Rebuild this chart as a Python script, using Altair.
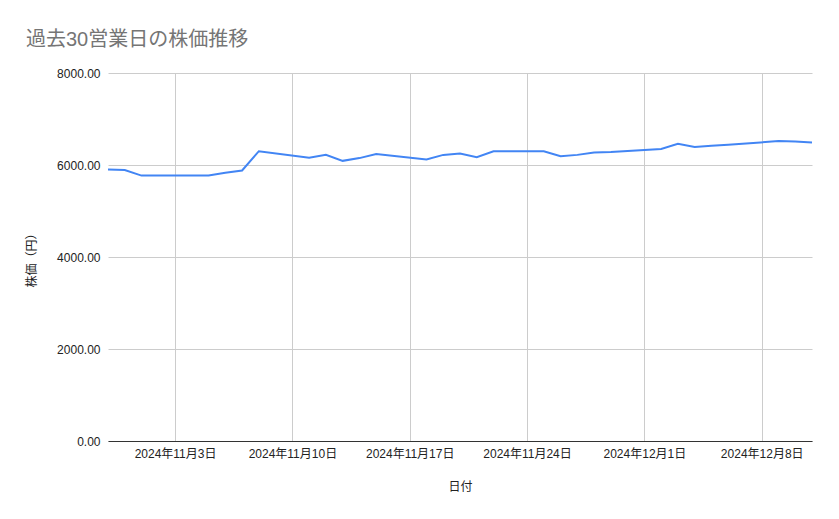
import altair as alt
import pandas as pd

dates = [
    "2024-10-30", "2024-10-31", "2024-11-01",
    "2024-11-04", "2024-11-05", "2024-11-06", "2024-11-07", "2024-11-08",
    "2024-11-11", "2024-11-12", "2024-11-13", "2024-11-14", "2024-11-15",
    "2024-11-18", "2024-11-19", "2024-11-20", "2024-11-21", "2024-11-22",
    "2024-11-25", "2024-11-26", "2024-11-27", "2024-11-28", "2024-11-29",
    "2024-12-02", "2024-12-03", "2024-12-04", "2024-12-05", "2024-12-06",
    "2024-12-09", "2024-12-10", "2024-12-11",
]
prices = [
    5900, 5890, 5770,
    5770, 5770, 5830, 5880, 6300,
    6160, 6220, 6090, 6150, 6240,
    6120, 6220, 6250, 6170, 6300,
    6300, 6190, 6220, 6270, 6280,
    6350, 6460, 6390, 6420, 6440,
    6520, 6510, 6490,
]
y_ticks = [0, 2000, 4000, 6000, 8000]
x_ticks = ["2024-11-03", "2024-11-10", "2024-11-17", "2024-11-24", "2024-12-01", "2024-12-08"]

df = pd.DataFrame({"date": [d + "T00:00:00" for d in dates], "price": prices})


def dt(s):
    y, m, d = (int(v) for v in s.split("-"))
    return alt.DateTime(year=y, month=m, date=d)


FONT = "Liberation Sans, Arial, Noto Sans CJK JP"

chart = (
    alt.Chart(df)
    .mark_line(color="#4285F4", strokeWidth=2)
    .encode(
        x=alt.X(
            "date:T",
            title="日付",
            scale=alt.Scale(domain=[dt(dates[0]), dt(dates[-1])], nice=False),
            axis=alt.Axis(
                values=[dt(s) for s in x_ticks],
                format="%Y年%-m月%-d日",
                grid=True,
                gridColor="#cccccc",
                ticks=False,
                domainColor="#333333",
                labelPadding=7,
                titlePadding=22,
            ),
        ),
        y=alt.Y(
            "price:Q",
            title="株価（円）",
            scale=alt.Scale(domain=[0, 8000], nice=False),
            axis=alt.Axis(
                values=y_ticks,
                format=".2f",
                grid=True,
                gridColor="#cccccc",
                ticks=False,
                domain=False,
                labelPadding=8,
                titlePadding=18,
            ),
        ),
    )
    .properties(
        width=704,
        height=368,
        autosize=alt.AutoSizeParams(type="none"),
        padding={"left": 100, "top": 65, "right": 19, "bottom": 70},
        title=alt.TitleParams(
            "過去30営業日の株価推移",
            anchor="start",
            frame="group",
            dx=-82,
            offset=17,
            fontSize=20,
            fontWeight="normal",
            color="#757575",
            font=FONT,
        ),
        background="white",
    )
    .configure_view(stroke=None)
    .configure_axis(
        labelFont=FONT,
        titleFont=FONT,
        labelFontSize=12,
        titleFontSize=12,
        labelColor="#222222",
        titleColor="#222222",
        titleFontWeight="normal",
    )
)

chart.save("out.html", embed_options={"renderer": "svg", "actions": False})
